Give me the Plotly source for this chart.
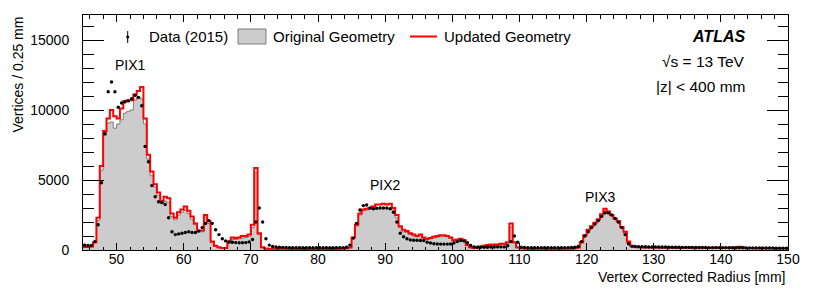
import numpy as np
import plotly.graph_objects as go

# ---- binning (0.5 mm bins from 45 to 150 mm) ----
bin_lo = 45.0
bin_w = 0.5

# ---- Original Geometry (grey filled histogram), per bin, 10 bins per row ----
orig_geom = [
    200, 200, 220, 500, 2100, 5700, 8200, 9070, 9140, 8700,          # 45-50
    9000, 9300, 9780, 9900, 10000, 10710, 10950, 10800, 9000, 6500,  # 50-55
    5300, 4500, 3900, 3300, 3500, 3400, 2400, 2150, 2500, 2700,      # 55-60
    2850, 2600, 2200, 1800, 1300, 1300, 2350, 1900, 500, 250,        # 60-65
    150, 100, 100, 450, 750, 750, 800, 850, 900, 950,                # 65-70
    1600, 5500, 1100, 150, 80, 70, 70, 70, 70, 70,                   # 70-75
    70, 70, 60, 60, 60, 60, 60, 60, 60, 60,                          # 75-80
    60, 60, 60, 60, 60, 70, 70, 80, 100, 150,                        # 80-85
    800, 1700, 2500, 2800, 2850, 2900, 2900, 2950, 3000, 3000,       # 85-90
    3000, 2950, 2850, 2300, 1600, 1300, 1250, 1100, 1000, 950,       # 90-95
    1050, 850, 750, 800, 850, 900, 950, 980, 950, 850,               # 95-100
    650, 700, 750, 650, 300, 150, 120, 150, 200, 200,                # 100-105
    300, 350, 350, 350, 400, 400, 500, 1650, 500, 150,               # 105-110
    100, 80, 70, 70, 70, 70, 70, 70, 70, 70,                         # 110-115
    70, 70, 70, 70, 70, 80, 100, 150, 500, 1000,                     # 115-120
    1400, 1650, 1900, 2150, 2450, 2850, 2650, 2450, 2200, 1950,      # 120-125
    1600, 1200, 500, 250, 200, 180, 170, 160, 150, 150,              # 125-130
    150, 140, 140, 140, 140, 140, 130, 130, 130, 130,                # 130-135
    130, 130, 130, 120, 120, 120, 120, 120, 120, 120,                # 135-140
    120, 120, 110, 110, 110, 110, 110, 110, 110, 100,                # 140-145
    100, 100, 100, 100, 100, 100, 100, 100, 100, 100,                # 145-150
]

# ---- Updated Geometry (red line histogram) ----
upd_geom = [
    220, 220, 250, 550, 2300, 6000, 8500, 9400, 10000, 9550,
    9400, 10100, 10650, 10700, 10700, 11100, 11350, 11650, 9400, 6800,
    5600, 4700, 4100, 3500, 3800, 3700, 2600, 2300, 2700, 2900,
    3100, 2800, 2400, 1900, 1400, 1400, 2500, 2050, 600, 300,
    200, 150, 150, 600, 900, 850, 900, 1000, 1000, 1100,
    1800, 5850, 1200, 200, 100, 90, 90, 90, 90, 90,
    90, 90, 80, 80, 80, 80, 80, 80, 80, 80,
    80, 80, 80, 80, 80, 90, 90, 100, 120, 180,
    900, 1800, 2600, 2900, 2950, 3000, 3100, 3250, 3250, 3300,
    3250, 3300, 3000, 2500, 1700, 1450, 1350, 1200, 1100, 1000,
    1100, 900, 800, 850, 950, 1000, 1050, 1050, 1000, 900,
    700, 750, 800, 700, 350, 200, 150, 200, 250, 300,
    350, 400, 400, 400, 450, 450, 550, 1900, 550, 200,
    120, 100, 90, 90, 90, 90, 90, 90, 90, 90,
    90, 90, 90, 90, 90, 100, 120, 180, 550, 1050,
    1450, 1700, 1950, 2200, 2550, 2950, 2750, 2500, 2250, 2050,
    1650, 1300, 600, 300, 230, 200, 190, 180, 180, 170,
    170, 180, 160, 170, 200, 160, 170, 160, 180, 160,
    170, 150, 160, 170, 150, 160, 150, 150, 170, 150,
    150, 160, 150, 170, 200, 230, 200, 150, 140, 140,
    130, 130, 140, 130, 130, 120, 130, 120, 120, 120,
]

# ---- Data (2015), value at each bin centre ----
data_2015 = [
    350, 330, 330, 600, 1800, 4800, 8300, 11300, 12000, 11300,
    10200, 10500, 10580, 10650, 10800, 11050, 10900, 10300, 7400, 6300,
    4600, 3800, 3450, 3400, 3250, 2300, 1300, 1100, 1150, 1200,
    1250, 1300, 1250, 1250, 1350, 1600, 1900, 2100, 1900, 1450,
    1100, 800, 650, 580, 550, 530, 520, 520, 530, 580,
    750, 2000, 3000, 2000, 800, 350, 250, 220, 200, 190,
    180, 170, 170, 160, 160, 160, 160, 160, 160, 160,
    160, 160, 160, 160, 160, 160, 160, 170, 200, 350,
    850, 1900, 2860, 3170, 3210, 3000, 2950, 2980, 3000, 3000,
    3000, 2950, 2700, 2000, 1200, 950, 800, 720, 700, 700,
    680, 680, 550, 500, 450, 430, 420, 420, 420, 430,
    500, 600, 680, 650, 520, 330, 220, 200, 200, 200,
    200, 210, 210, 220, 220, 220, 300, 600, 1000, 550,
    200, 180, 160, 160, 160, 160, 160, 160, 160, 160,
    160, 160, 160, 160, 170, 180, 200, 250, 600, 1000,
    1300, 1600, 1850, 2100, 2400, 2650, 2650, 2500, 2250, 2000,
    1600, 1100, 450, 260, 250, 240, 230, 230, 220, 220,
    220, 210, 210, 210, 200, 200, 200, 200, 190, 190,
    190, 190, 180, 180, 180, 180, 170, 170, 170, 170,
    170, 170, 160, 160, 160, 160, 160, 150, 150, 150,
    150, 150, 140, 140, 140, 140, 130, 130, 130, 130,
]

x_ticks = [50, 60, 70, 80, 90, 100, 110, 120, 130, 140, 150]
y_ticks = [0, 5000, 10000, 15000]
y_tick_text = ["0", "5000", "10000", "15000"]
layer_labels = ["PIX1", "PIX2", "PIX3"]
layer_label_x = [52.1, 90.05, 122.05]
layer_label_y = [13200, 4640, 3810]

n = len(orig_geom)
edges = bin_lo + bin_w * np.arange(n + 1)
centres = edges[:-1] + bin_w / 2

FONT = "Liberation Sans, Arial, Helvetica, sans-serif"

fig = go.Figure()
fig.add_trace(go.Scatter(
    x=edges, y=list(orig_geom) + [orig_geom[-1]], mode="lines", line_shape="hv",
    line=dict(color="#7f7f7f", width=1), fill="tozeroy", fillcolor="#cccccc",
    hoverinfo="skip"))
fig.add_trace(go.Scatter(
    x=edges, y=list(upd_geom) + [upd_geom[-1]], mode="lines", line_shape="hv",
    line=dict(color="#ff0000", width=2), hoverinfo="skip"))
fig.add_trace(go.Scatter(
    x=centres, y=data_2015, mode="markers",
    marker=dict(color="black", size=3.4, line=dict(width=0)), hoverinfo="skip"))

# page has an 8 px body margin: the figure starts at (8, 8) in the window
OFF = 8
W, H = 830 - OFF, 299 - OFF
PL, PR, PT, PB = 83, 788, 15, 250          # plot-area edges in window pixels
L, T = PL - OFF, PT - OFF
R, B = 830 - PR, 299 - PB
PW, PH = PR - PL, PB - PT


def px(xp):
    return (xp - PL) / PW


def py(yp):
    return (PB - yp) / PH


fig.update_layout(
    width=W, height=H, margin=dict(l=L, r=R, t=T, b=B, autoexpand=False),
    paper_bgcolor="white", plot_bgcolor="white", showlegend=False,
    font=dict(family=FONT, size=14, color="black"),
    xaxis=dict(range=[45, 150], tickvals=x_ticks, ticks="inside", ticklen=7,
               tickwidth=1, tickcolor="black", showline=True, linecolor="black",
               linewidth=1, mirror="ticks", showgrid=False, zeroline=False,
               tickfont=dict(size=14, family=FONT), ticklabelstandoff=-4,
               minor=dict(dtick=2, tick0=0, ticks="inside", ticklen=3.5,
                          tickcolor="black", showgrid=False)),
    yaxis=dict(range=[0, 16786], tickvals=y_ticks, ticktext=y_tick_text,
               ticks="inside", ticklen=21,
               tickwidth=1, tickcolor="black", showline=True, linecolor="black",
               linewidth=1, mirror="ticks", showgrid=False, zeroline=False,
               tickfont=dict(size=14, family=FONT), ticklabelstandoff=10,
               minor=dict(dtick=1000, tick0=0, ticks="inside", ticklen=10.5,
                          tickcolor="black", showgrid=False)),
)

ann = []
# axis titles
ann.append(dict(text="Vertex Corrected Radius [mm]", xref="paper", yref="paper",
                x=1.0, y=py(277), xanchor="right", yanchor="middle",
                showarrow=False, font=dict(size=14)))
ann.append(dict(text="Vertices / 0.25 mm", xref="paper", yref="paper",
                x=px(17.5), y=1.0, xanchor="center", yanchor="top", textangle=-90,
                showarrow=False, font=dict(size=14)))
# layer labels
for t, lx, ly in zip(layer_labels, layer_label_x, layer_label_y):
    ann.append(dict(text=t, x=lx, y=ly, xref="x", yref="y", showarrow=False,
                    xanchor="center", yanchor="middle", font=dict(size=14)))
# ATLAS labels
ann.append(dict(text="<b><i>ATLAS</i></b>", xref="paper", yref="paper", x=px(747),
                y=py(36.5), xanchor="right", yanchor="middle", showarrow=False,
                font=dict(size=16)))
ann.append(dict(text="\u221as = 13 TeV", xref="paper", yref="paper", x=px(747),
                y=py(61.5), xanchor="right", yanchor="middle", showarrow=False,
                font=dict(size=15.5)))
ann.append(dict(text="|z| < 400 mm", xref="paper", yref="paper", x=px(747),
                y=py(86), xanchor="right", yanchor="middle", showarrow=False,
                font=dict(size=15.5)))
# legend texts
for t, lx in [("Data (2015)", 147), ("Original Geometry", 271), ("Updated Geometry", 442)]:
    ann.append(dict(text=t, xref="paper", yref="paper", x=px(lx), y=py(36.5),
                    xanchor="left", yanchor="middle", showarrow=False,
                    font=dict(size=15)))
fig.update_layout(annotations=ann)

shapes = []
# data legend symbol: error bar + dot
shapes.append(dict(type="line", xref="paper", yref="paper", x0=px(127.7), x1=px(127.7),
                   y0=py(31), y1=py(43), line=dict(color="black", width=1)))
shapes.append(dict(type="circle", xref="paper", yref="paper", x0=px(126.2), x1=px(129.2),
                   y0=py(35.5), y1=py(38.5), fillcolor="black", line=dict(width=0)))
# grey box
shapes.append(dict(type="rect", xref="paper", yref="paper", x0=px(238), x1=px(266),
                   y0=py(44), y1=py(29), fillcolor="#cccccc",
                   line=dict(color="#7f7f7f", width=1)))
# red line
shapes.append(dict(type="line", xref="paper", yref="paper", x0=px(410), x1=px(437),
                   y0=py(36.5), y1=py(36.5), line=dict(color="#ff0000", width=2)))
fig.update_layout(shapes=shapes)

fig.write_html("out.html")
